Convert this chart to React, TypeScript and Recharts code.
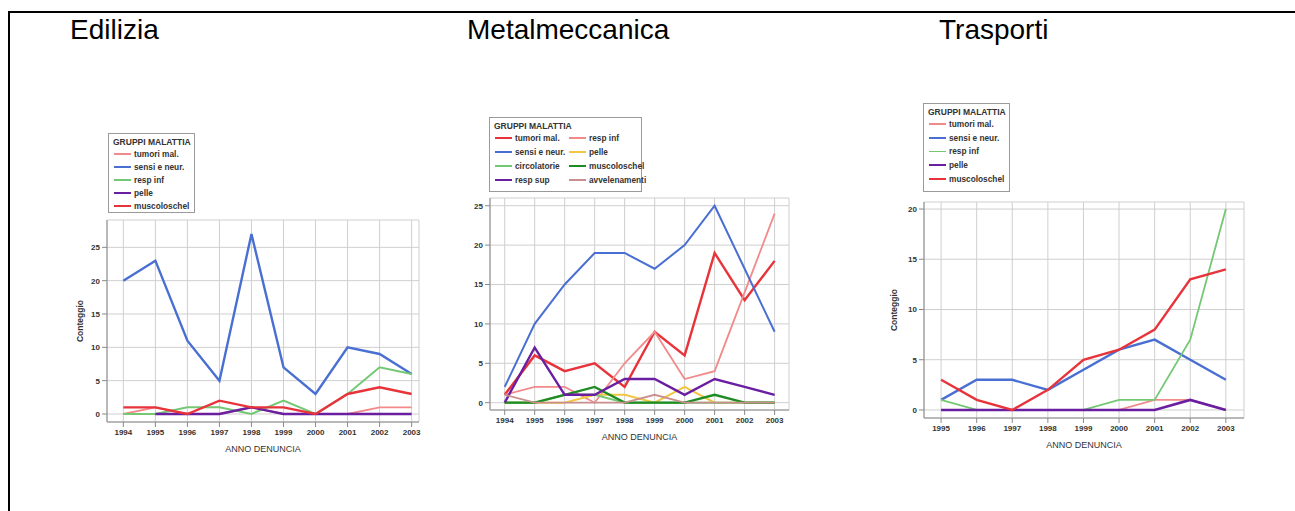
import React from 'react';
import { LineChart, Line, XAxis, YAxis, CartesianGrid } from 'recharts';

// years on the x axis
const years10 = [1994, 1995, 1996, 1997, 1998, 1999, 2000, 2001, 2002, 2003];
const years9 = [1995, 1996, 1997, 1998, 1999, 2000, 2001, 2002, 2003];

// Edilizia
const edTumori = [0, 1, 0, 0, 1, 0, 0, 0, 1, 1];
const edSensi = [20, 23, 11, 5, 27, 7, 3, 10, 9, 6];
const edRespInf = [0, 0, 1, 1, 0, 2, 0, 3, 7, 6];
const edPelle = [null, 0, 0, 0, 1, 0, 0, 0, 0, 0];
const edMuscolo = [1, 1, 0, 2, 1, 1, 0, 3, 4, 3];

// Metalmeccanica
const mmTumori = [1, 6, 4, 5, 2, 9, 6, 19, 13, 18];
const mmSensi = [2, 10, 15, 19, 19, 17, 20, 25, 17, 9];
const mmCircolatorie = [0, 0, 1, 1, 0, 0, 0, 0, 0, 0];
const mmRespSup = [0, 7, 1, 1, 3, 3, 1, 3, 2, 1];
const mmRespInf = [1, 2, 2, 0, 5, 9, 3, 4, 14, 24];
const mmPelle = [0, 0, 0, 1, 1, 0, 2, 0, 0, 0];
const mmMuscolo = [0, 0, 1, 2, 0, 0, 0, 1, 0, 0];
const mmAvvelenamenti = [1, 0, 0, 0, 0, 1, 0, 0, 0, 0];

// Trasporti
const trTumori = [0, 0, 0, 0, 0, 0, 1, 1, 0];
const trSensi = [1, 3, 3, 2, 4, 6, 7, 5, 3];
const trRespInf = [1, 0, 0, 0, 0, 1, 1, 7, 20];
const trPelle = [0, 0, 0, 0, 0, 0, 0, 1, 0];
const trMuscolo = [3, 1, 0, 2, 5, 6, 8, 13, 14];

const yTicks25 = [0, 5, 10, 15, 20, 25];
const yTicks20 = [0, 5, 10, 15, 20];

const C = {
  red: '#e8333a',
  salmon: '#f28a8a',
  blue: '#4a6fd2',
  green: '#74c874',
  purple: '#6a1ea0',
  dkgreen: '#1e8c22',
  yellow: '#f2c640',
  brown: '#c98f8f',
};

interface Series {
  key: string;
  name: string;
  values: (number | null)[];
  color: string;
  width: number;
}

const edSeries: Series[] = [
  { key: 'tumori', name: 'tumori mal.', values: edTumori, color: C.salmon, width: 1.8 },
  { key: 'sensi', name: 'sensi e neur.', values: edSensi, color: C.blue, width: 2.4 },
  { key: 'respinf', name: 'resp inf', values: edRespInf, color: C.green, width: 2 },
  { key: 'pelle', name: 'pelle', values: edPelle, color: C.purple, width: 2.4 },
  { key: 'muscolo', name: 'muscoloschel', values: edMuscolo, color: C.red, width: 2.4 },
];

const mmSeries: Series[] = [
  { key: 'tumori', name: 'tumori mal.', values: mmTumori, color: C.red, width: 2.4 },
  { key: 'respinf', name: 'resp inf', values: mmRespInf, color: C.salmon, width: 1.8 },
  { key: 'sensi', name: 'sensi e neur.', values: mmSensi, color: C.blue, width: 2 },
  { key: 'pelle', name: 'pelle', values: mmPelle, color: C.yellow, width: 2 },
  { key: 'circ', name: 'circolatorie', values: mmCircolatorie, color: C.green, width: 2 },
  { key: 'muscolo', name: 'muscoloschel', values: mmMuscolo, color: C.dkgreen, width: 2.4 },
  { key: 'respsup', name: 'resp sup', values: mmRespSup, color: C.purple, width: 2.4 },
  { key: 'avvel', name: 'avvelenamenti', values: mmAvvelenamenti, color: C.brown, width: 1.8 },
];

const trSeries: Series[] = [
  { key: 'tumori', name: 'tumori mal.', values: trTumori, color: C.salmon, width: 1.8 },
  { key: 'sensi', name: 'sensi e neur.', values: trSensi, color: C.blue, width: 2.4 },
  { key: 'respinf', name: 'resp inf', values: trRespInf, color: C.green, width: 1.8 },
  { key: 'pelle', name: 'pelle', values: trPelle, color: C.purple, width: 2.6 },
  { key: 'muscolo', name: 'muscoloschel', values: trMuscolo, color: C.red, width: 2.4 },
];

function buildRows(years: number[], series: Series[]) {
  return years.map((year, i) => {
    const row: Record<string, number | null> = { year };
    series.forEach((s) => {
      row[s.key] = s.values[i];
    });
    return row;
  });
}

const FONT = '"Liberation Sans Narrow", "Liberation Sans", Arial, sans-serif';

function GroupLegend({
  series,
  left,
  top,
  width,
  height,
  columns = 1,
  rowGap,
}: {
  series: Series[];
  left: number;
  top: number;
  width: number;
  height: number;
  columns?: number;
  rowGap: number;
}) {
  return (
    <div
      style={{
        position: 'absolute',
        left,
        top,
        width,
        height,
        border: '1px solid #9a9a9a',
        boxSizing: 'border-box',
        fontFamily: FONT,
        color: '#333',
        background: '#fff',
      }}
    >
      <div style={{ position: 'absolute', left: 4, top: 3, fontSize: 8.5, fontWeight: 'bold', whiteSpace: 'nowrap' }}>
        GRUPPI MALATTIA
      </div>
      {series.map((s, i) => {
        const col = columns === 1 ? 0 : i % columns;
        const row = columns === 1 ? i : Math.floor(i / columns);
        return (
          <div
            key={s.key}
            style={{
              position: 'absolute',
              left: 5 + col * 74,
              top: 15 + row * rowGap,
              display: 'flex',
              alignItems: 'center',
              fontSize: 8.3,
              fontWeight: 'bold',
              whiteSpace: 'nowrap',
              height: 10,
            }}
          >
            <div style={{ width: 17, height: s.width > 2.2 ? 2 : 1.5, background: s.color, marginRight: 3 }} />
            <span>{s.name}</span>
          </div>
        );
      })}
    </div>
  );
}

function Panel({
  series,
  years,
  left,
  top,
  width,
  height,
  yAxisWidth,
  xDomain,
  yDomain,
  yTicks,
  showYLabel,
}: {
  series: Series[];
  years: number[];
  left: number;
  top: number;
  width: number;
  height: number;
  yAxisWidth: number;
  xDomain: [number, number];
  yDomain: [number, number];
  yTicks: number[];
  showYLabel: boolean;
}) {
  const data = buildRows(years, series);
  const tickStyle = { fontSize: 8, fontWeight: 'bold' as const, fill: '#333', fontFamily: FONT };
  return (
    <div style={{ position: 'absolute', left, top }}>
      <LineChart width={width} height={height} data={data} margin={{ top: 5, right: 5, bottom: 0, left: 0 }}>
        <CartesianGrid stroke="#cfcfcf" strokeWidth={1} />
        <XAxis
          dataKey="year"
          type="number"
          domain={xDomain}
          ticks={years}
          allowDataOverflow
          height={36}
          tickSize={5}
          tickMargin={2}
          stroke="#8a8a8a"
          tick={tickStyle}
          interval={0}
          label={{ value: 'ANNO DENUNCIA', position: 'insideBottom', offset: 6, style: { fontSize: 9, fill: '#333', fontFamily: FONT } }}
        />
        <YAxis
          type="number"
          domain={yDomain}
          ticks={yTicks}
          allowDataOverflow
          width={yAxisWidth}
          tickSize={5}
          tickMargin={2}
          stroke="#8a8a8a"
          tick={tickStyle}
          interval={0}
          label={
            showYLabel
              ? { value: 'Conteggio', angle: -90, position: 'insideLeft', offset: 20, style: { fontSize: 8.5, fontWeight: 'bold', fill: '#333', fontFamily: FONT, textAnchor: 'middle' } }
              : undefined
          }
        />
        <XAxis xAxisId="top" orientation="top" type="number" domain={xDomain} allowDataOverflow tick={false} tickLine={false} height={0} stroke="#8a8a8a" dataKey="year" />
        <YAxis yAxisId="right" orientation="right" type="number" domain={yDomain} allowDataOverflow tick={false} tickLine={false} width={0} stroke="#8a8a8a" />
        {series.map((s) => (
          <Line
            key={s.key}
            dataKey={s.key}
            stroke={s.color}
            strokeWidth={s.width}
            dot={false}
            type="linear"
            isAnimationActive={false}
          />
        ))}
      </LineChart>
    </div>
  );
}

export default function App() {
  const titleStyle: React.CSSProperties = {
    position: 'absolute',
    top: 14,
    fontFamily: '"Liberation Sans", Arial, sans-serif',
    fontSize: 28,
    color: '#000',
    whiteSpace: 'nowrap',
  };
  return (
    <div style={{ position: 'absolute', left: 0, top: 0, width: 1295, height: 511, background: '#fff', overflow: 'hidden' }}>
      <div style={{ position: 'absolute', left: 8, top: 11, width: 1287, height: 500, borderTop: '2px solid #000', borderLeft: '2px solid #000', boxSizing: 'border-box' }} />
      <div style={{ ...titleStyle, left: 70 }}>Edilizia</div>
      <div style={{ ...titleStyle, left: 467 }}>Metalmeccanica</div>
      <div style={{ ...titleStyle, left: 939 }}>Trasporti</div>

      {/* Edilizia */}
      <GroupLegend series={edSeries} left={108} top={133} width={87} height={80} rowGap={13} />
      <Panel
        series={edSeries}
        years={years10}
        left={60}
        top={215}
        width={364}
        height={243}
        yAxisWidth={47}
        xDomain={[1993.49, 2003.23]}
        yDomain={[-1.2, 29.1]}
        yTicks={yTicks25}
        showYLabel
      />

      {/* Metalmeccanica */}
      <GroupLegend series={mmSeries} left={489} top={117} width={153} height={75} columns={2} rowGap={14} />
      <Panel
        series={mmSeries}
        years={years10}
        left={443}
        top={193}
        width={351}
        height={253}
        yAxisWidth={47}
        xDomain={[1993.51, 2003.48]}
        yDomain={[-0.93, 25.98]}
        yTicks={yTicks25}
        showYLabel={false}
      />

      {/* Trasporti */}
      <GroupLegend series={trSeries} left={923} top={103} width={87} height={89} rowGap={13.7} />
      <Panel
        series={trSeries}
        years={years9}
        left={874}
        top={197}
        width={375}
        height={257}
        yAxisWidth={50}
        xDomain={[1994.52, 2003.51]}
        yDomain={[-0.8, 20.7]}
        yTicks={yTicks20}
        showYLabel
      />
    </div>
  );
}
